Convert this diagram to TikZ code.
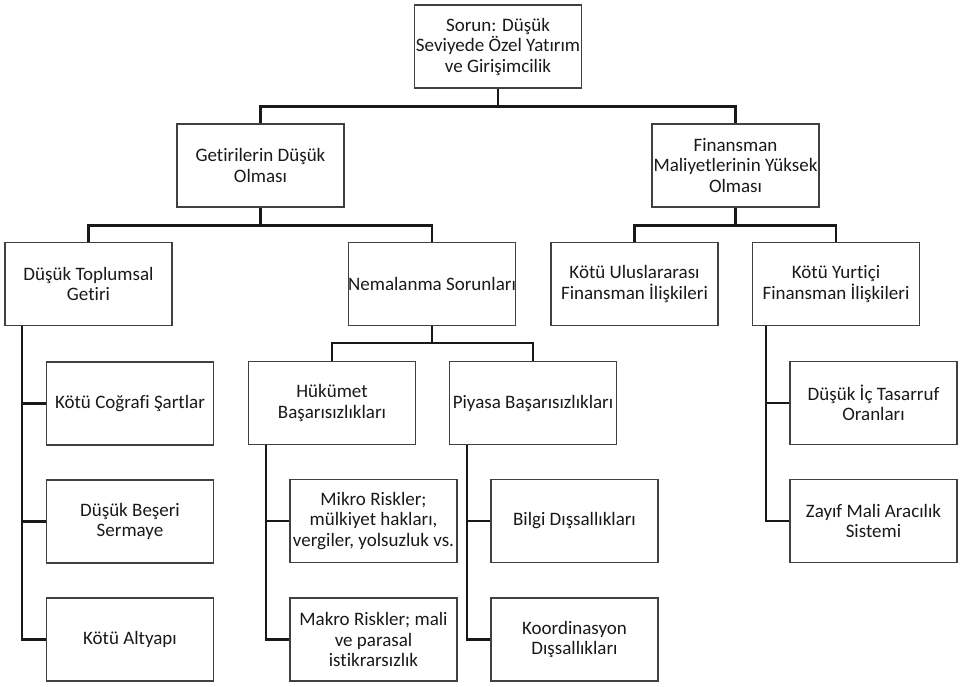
\documentclass[tikz,border=0pt]{standalone}
\usepackage{fontspec}
\setmainfont{Carlito}[Ligatures=NoCommon]
\begin{document}
\begin{tikzpicture}[x=1pt,y=-1pt,
  box/.style={draw=black!75, line width=1.1pt, minimum width=167pt, minimum height=83pt, inner sep=0pt, align=center, text=black!90, font=\fontsize{19}{20.5}\selectfont},
  conn/.style={draw=black!90, line width=2.4pt}]
\useasboundingbox (0,0) rectangle (967,686);
% level 0
\node[box] (top) at (498,46.5) {Sorun: Düşük\\Seviyede Özel Yatırım\\ve Girişimcilik};
% level 1
\node[box] (get) at (260.5,165.5) {Getirilerin Düşük\\Olması};
\node[box] (fin) at (735.5,165.5) {Finansman\\Maliyetlerinin Yüksek\\Olması};
% level 2
\node[box] (dtg) at (88.5,284) {Düşük Toplumsal\\Getiri};
\node[box] (nem) at (432,284) {Nemalanma Sorunları};
\node[box] (kui) at (634.5,284) {Kötü Uluslararası\\Finansman İlişkileri};
\node[box] (kyi) at (836,284) {Kötü Yurtiçi\\Finansman İlişkileri};
% level 3
\node[box] (kcs) at (130,403.5) {Kötü Coğrafi Şartlar};
\node[box] (dbs) at (130,521.5) {Düşük Beşeri\\Sermaye};
\node[box] (kal) at (130,639.5) {Kötü Altyapı};
\node[box] (huk) at (332,403) {Hükümet\\Başarısızlıkları};
\node[box] (piy) at (533,403) {Piyasa Başarısızlıkları};
\node[box] (mik) at (373.5,521) {Mikro Riskler;\\mülkiyet hakları,\\vergiler, yolsuzluk vs.};
\node[box] (mak) at (373.5,639.5) {Makro Riskler; mali\\ve parasal\\istikrarsızlık};
\node[box] (bil) at (574.5,521) {Bilgi Dışsallıkları};
\node[box] (koo) at (574.5,639.5) {Koordinasyon\\Dışsallıkları};
\node[box] (dit) at (873.5,403) {Düşük İç Tasarruf\\Oranları};
\node[box] (zay) at (873.5,521) {Zayıf Mali Aracılık\\Sistemi};
% connectors
\path[conn] (top.south) -- ++(0,18) -| (get.north);
\path[conn] (top.south) ++(0,18) -| (fin.north);
\path[conn] (get.south) -- ++(0,18) -| (dtg.north);
\path[conn] (get.south) ++(0,18) -| (nem.north);
\path[conn] (fin.south) -- ++(0,18) -| (kui.north);
\path[conn] (fin.south) ++(0,18) -| (kyi.north);
\path[conn] (nem.south) -- ++(0,17) -| (huk.north);
\path[conn] (nem.south) ++(0,17) -| (piy.north);
\coordinate (dtgL) at (22,325.5);
\coordinate (hukL) at (266,444.5);
\coordinate (piyL) at (467,444.5);
\coordinate (kyiL) at (766,325.5);
\path[conn] (dtgL) |- (kcs.west);
\path[conn] (dtgL) |- (dbs.west);
\path[conn] (dtgL) |- (kal.west);
\path[conn] (hukL) |- (mik.west);
\path[conn] (hukL) |- (mak.west);
\path[conn] (piyL) |- (bil.west);
\path[conn] (piyL) |- (koo.west);
\path[conn] (kyiL) |- (dit.west);
\path[conn] (kyiL) |- (zay.west);
\end{tikzpicture}
\end{document}
